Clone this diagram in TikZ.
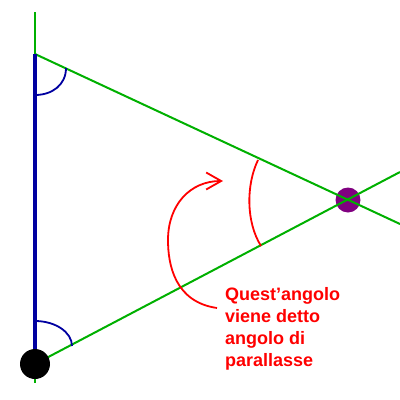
\documentclass[tikz,border=0pt]{standalone}
\usepackage{fontspec}
\setmainfont{Liberation Sans}
\usetikzlibrary{arrows.meta}
\definecolor{lgreen}{RGB}{0,176,0}
\definecolor{dblue}{RGB}{0,0,160}
\definecolor{dpurple}{RGB}{128,0,128}
\tikzset{
  greenline/.style={draw=lgreen, line width=2pt},
  bluearc/.style={draw=dblue, line width=1.8pt},
  redline/.style={draw=red, line width=1.8pt},
  dot/.style={circle, inner sep=0pt},
  lbl/.style={anchor=base west, inner sep=0pt, text=red, font=\bfseries\fontsize{18}{22}\selectfont}
}
\begin{document}
\begin{tikzpicture}[x=1pt,y=-1pt]
\useasboundingbox (0,0) rectangle (400,400);
\coordinate (T) at (35,12);
\coordinate (Bot) at (35,383);
\coordinate (A) at (35,54);
\coordinate (B) at (35,364);
\coordinate (P) at (348,200);
\coordinate (E1) at (400,224);
\coordinate (E2) at (400,172);
% purple star
\node[dot, fill=dpurple, minimum size=25pt] (star) at (P) {};
% green lines
\draw[greenline] (T) -- (Bot);
\draw[greenline] (A) -- (E1);
\draw[greenline] (B) -- (E2);
% blue baseline
\draw[draw=dblue, line width=4pt] (A) -- (B);
% blue angle arcs
\draw[bluearc] (35,95) .. controls (52,95) and (66,85) .. (66,68);
\draw[bluearc] (35,321) .. controls (55,321) and (72,332) .. (72,346);
% black earth
\node[dot, fill=black, minimum size=30pt] (earth) at (B) {};
% red parallax arc
\draw[redline] (258,160) .. controls (246,185) and (246,222) .. (261,246);
% red curved arrow
\draw[redline, -{Straight Barb[length=15pt,width=17pt,line width=1.8pt]}] (217,308) .. controls (175,302) and (168,265) .. (168,240) .. controls (168,205) and (190,181) .. (223,181);
% label
\node[lbl] (t1) at (225,300) {Quest’angolo};
\node[lbl] (t2) at (225,322) {viene detto};
\node[lbl] (t3) at (225,344) {angolo di};
\node[lbl] (t4) at (225,366) {parallasse};
\end{tikzpicture}
\end{document}
